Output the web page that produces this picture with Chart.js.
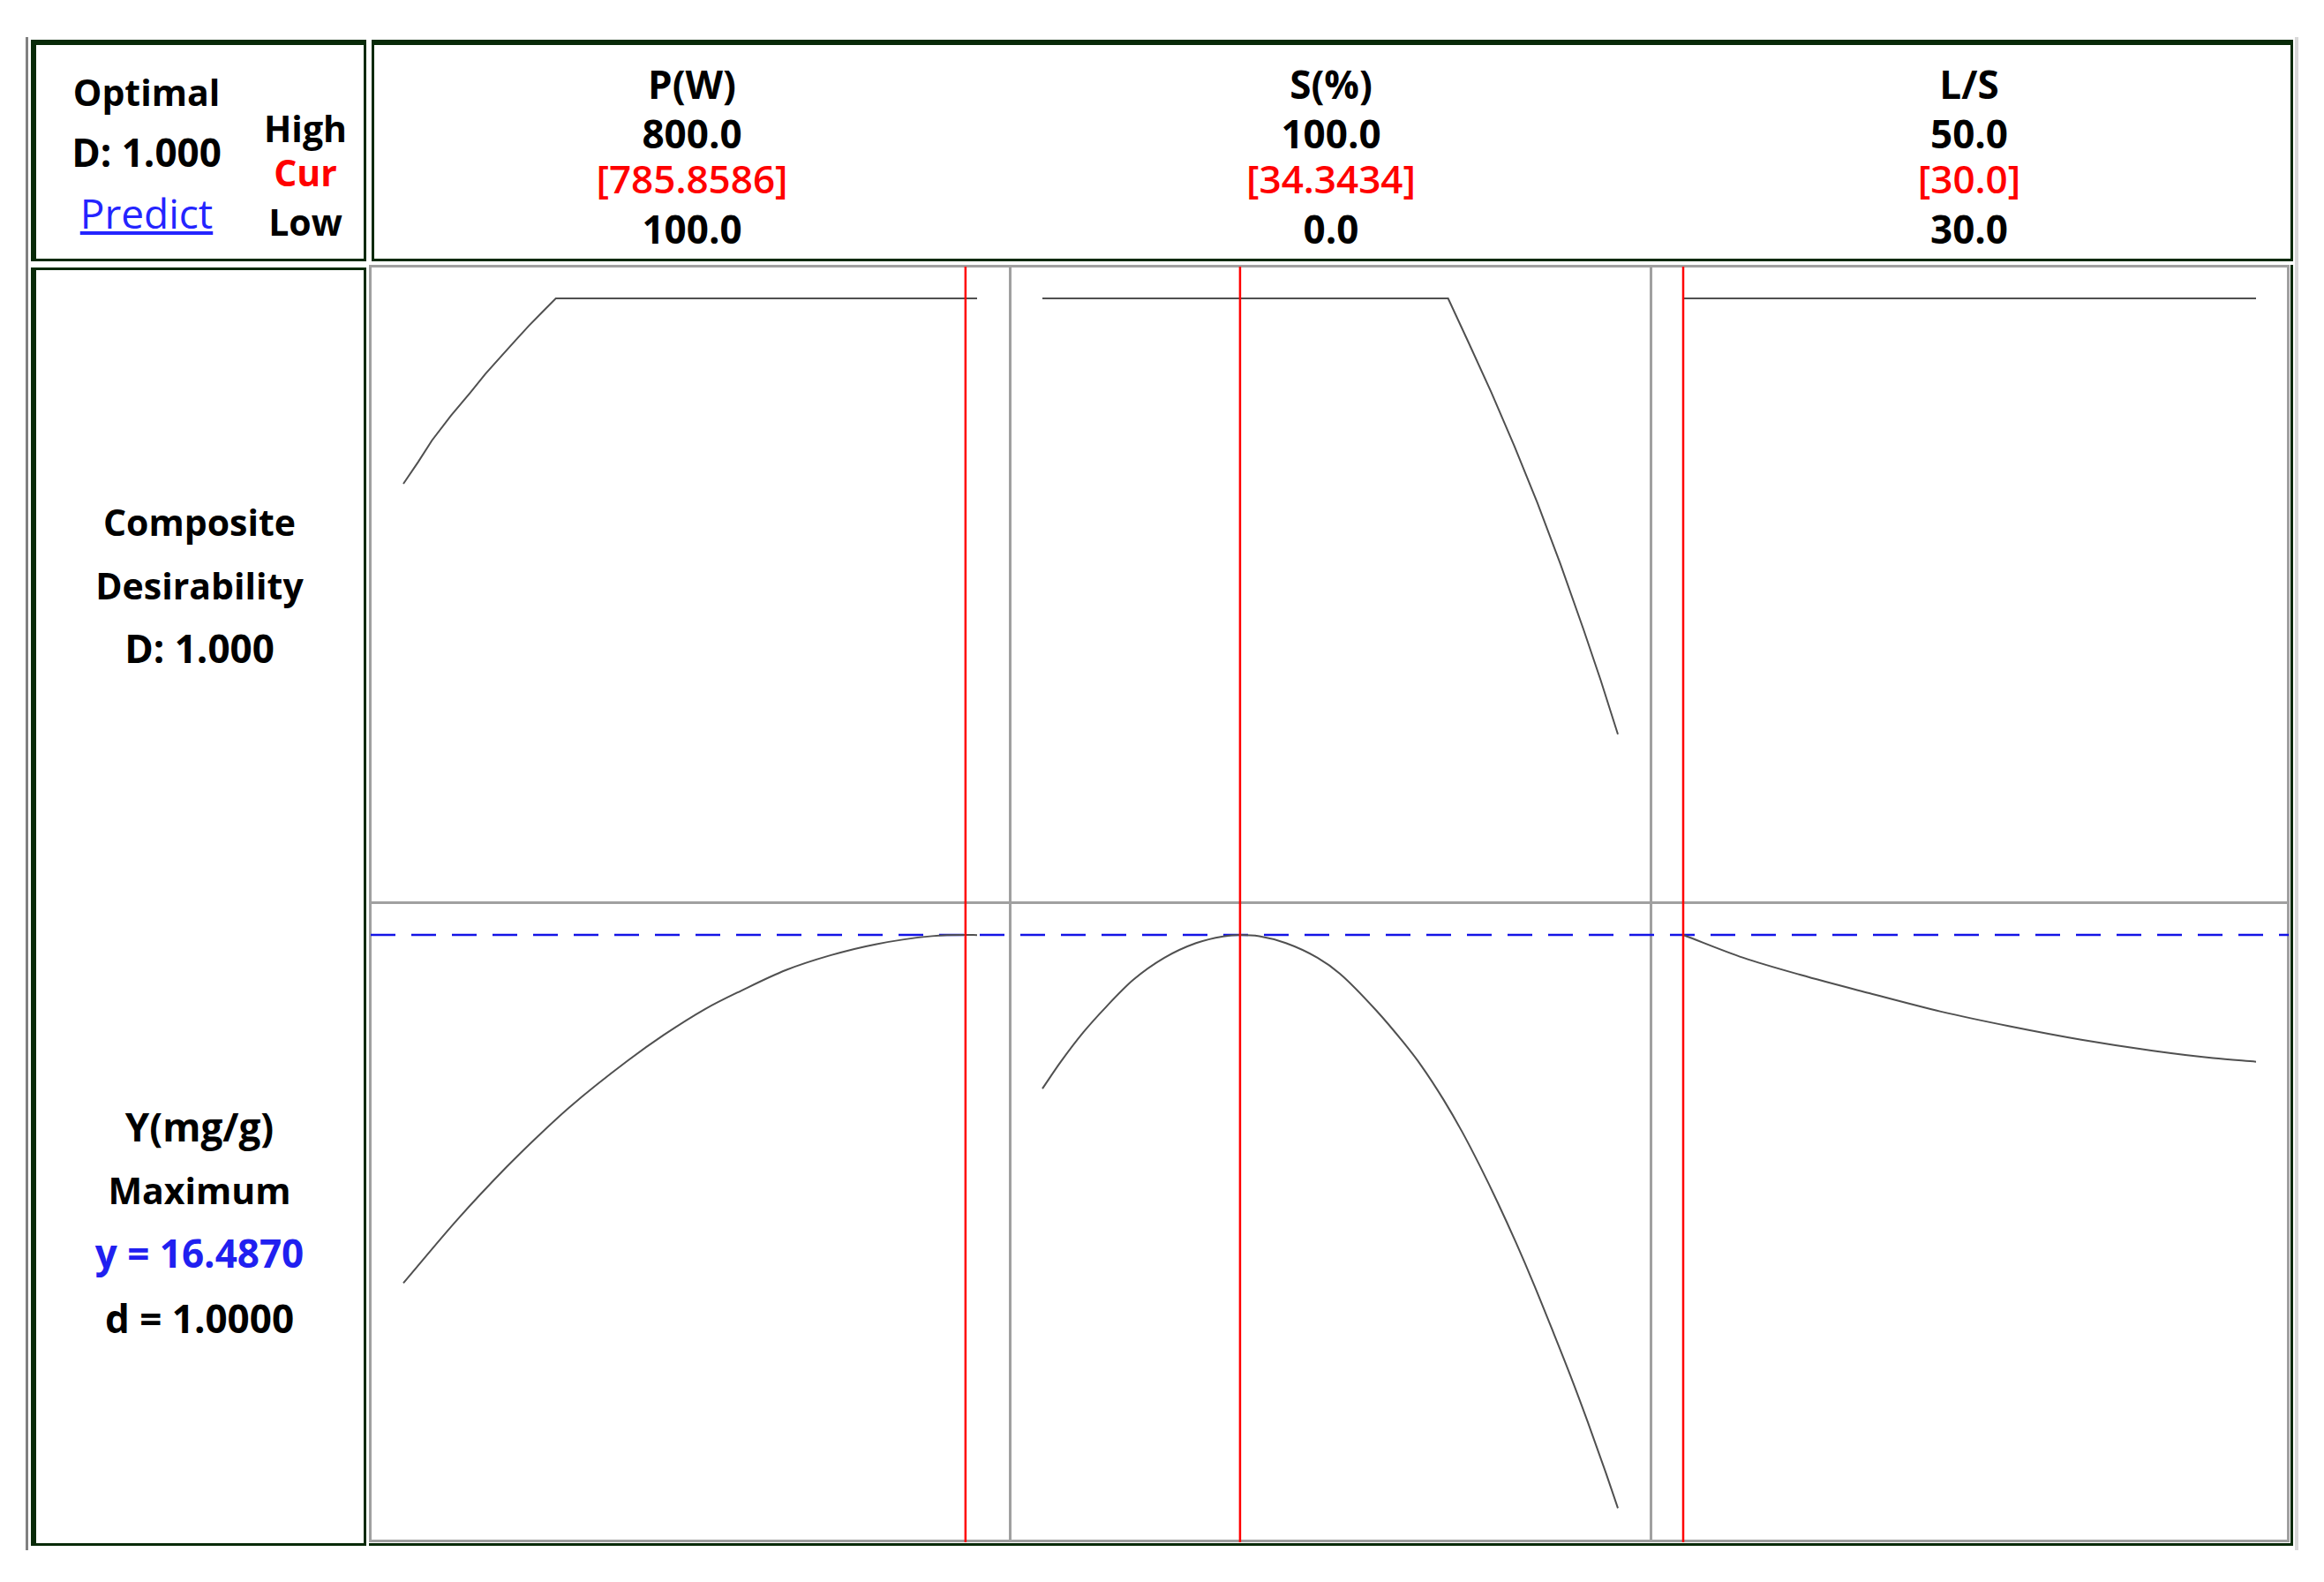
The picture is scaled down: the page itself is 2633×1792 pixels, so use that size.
<!DOCTYPE html>
<html>
<head>
<meta charset="utf-8">
<script src="https://cdn.jsdelivr.net/npm/chart.js@4/dist/chart.umd.min.js"></script>
<style>
html,body{margin:0;padding:0;background:#fff;}
#root{position:relative;width:2633px;height:1792px;overflow:hidden;font-family:"Open Sans",sans-serif;background:#fff;}
.box{position:absolute;box-sizing:border-box;border:0 solid #082a08;}
.line{position:absolute;background:#a0a0a0;}
.t{position:absolute;transform:translate(-50%,-50%);white-space:nowrap;font-size:41px;line-height:1;font-weight:700;color:#000;}
.big{font-size:44px;}
.red{color:#ff0000;}
.redv{color:#ff0000;font-weight:600;font-size:44px;}
.blue{color:#2020f0;font-size:44px;}
.pred{color:#2424ff;font-weight:400;text-decoration:underline;font-size:46px;}
canvas{position:absolute;}
</style>
</head>
<body>
<div id="root"></div>
<script>
// ---------- data ----------
const factors    = ['P(W)', 'S(%)', 'L/S'];
const highLabels = ['800.0', '100.0', '50.0'];
const curLabels  = ['[785.8586]', '[34.3434]', '[30.0]'];
const lowLabels  = ['100.0', '0.0', '30.0'];
const lows  = [100, 0, 30];
const highs = [800, 100, 50];
const curs  = [785.8586, 34.3434, 30.0];

// composite desirability curves (top row)
const pD_x = [100, 118, 135, 158, 182, 200, 220, 237, 253, 270, 286, 800];
const pD_d = [0.676, 0.714, 0.752, 0.795, 0.836, 0.868, 0.900, 0.927, 0.952, 0.977, 1.0, 1.0];
const sD_x = [0, 70.5, 74, 78, 82, 86, 90, 94, 97, 100];
const sD_d = [1.0, 1.0, 0.924, 0.836, 0.742, 0.643, 0.536, 0.422, 0.333, 0.238];
const lD_x = [30, 50];
const lD_d = [1.0, 1.0];

// response Y(mg/g) curves (bottom row)
const pY_x = [100, 166, 226, 264, 303, 374, 418, 468, 512, 567, 621, 676, 745, 785.86, 800];
const pY_y = [13.64, 14.16, 14.59, 14.84, 15.08, 15.46, 15.67, 15.88, 16.03, 16.20, 16.32, 16.41, 16.477, 16.487, 16.486];
const sY_x = [0, 3.2, 7.1, 11.1, 15.8, 21.2, 26.7, 31.4, 34.34, 37.7, 42.3, 47.8, 51.7, 58.0, 62.7, 65.8, 69.7, 72.9, 76.0, 79.1, 82.3, 85.4, 88.5, 91.7, 94.8, 97.9, 100];
const sY_y = [15.23, 15.45, 15.69, 15.90, 16.12, 16.30, 16.42, 16.475, 16.487, 16.476, 16.42, 16.30, 16.17, 15.87, 15.61, 15.42, 15.14, 14.88, 14.60, 14.30, 13.97, 13.63, 13.27, 12.89, 12.50, 12.09, 11.80];
const lY_x = [30, 32.1, 34.1, 36.5, 39.0, 41.4, 43.9, 46.4, 48.5, 50];
const lY_y = [16.487, 16.30, 16.16, 16.01, 15.86, 15.74, 15.63, 15.54, 15.48, 15.45];

const yOpt = 16.487;
const dRange = [-0.0556, 1.0556];
const yRange = [11.521, 16.754];

// ---------- layout ----------
const root = document.getElementById('root');
function box(l, t, w, h, bt, br, bb, bl, color) {
  const d = document.createElement('div');
  d.className = 'box';
  d.style.cssText = `left:${l}px;top:${t}px;width:${w}px;height:${h}px;border-width:${bt}px ${br}px ${bb}px ${bl}px;` + (color ? `border-color:${color};` : '');
  root.appendChild(d);
}
function line(l, t, w, h, c) {
  const d = document.createElement('div');
  d.className = 'line';
  d.style.cssText = `left:${l}px;top:${t}px;width:${w}px;height:${h}px;` + (c ? `background:${c};` : '');
  root.appendChild(d);
}
function text(s, x, y, cls) {
  const d = document.createElement('div');
  d.className = 't' + (cls ? ' ' + cls : '');
  d.textContent = s;
  d.style.left = x + 'px';
  d.style.top = y + 'px';
  root.appendChild(d);
}

// outer thin gray lines
line(29, 42, 3, 1714, '#808080');
line(2600, 42, 4, 1714, '#d8d8d8');
// header boxes
box(35, 45, 380, 251, 6, 3, 3, 6);
box(421, 45, 2177, 251, 6, 3, 3, 3);
// body left box
box(35, 303, 380, 1448, 3, 3, 3, 6);
// body right dark outline (right/bottom)
box(418, 300, 2180, 1451, 0, 3, 3, 0);
// plot frame gray
box(418, 300, 2176, 1447, 3, 3, 3, 3, '#a0a0a0');

const xs = [420, 1144, 1870, 2593];
const ys = [302, 1022, 1747];
// dividers
line(1143, 302, 3, 1445);
line(1869, 302, 3, 1445);
line(420, 1021, 2174, 3);

// header texts
text('Optimal', 166, 104);
text('D: 1.000', 166, 172, 'big');
text('Predict', 166, 241, 'pred');
text('High', 346, 145);
text('Cur', 346, 195, 'red');
text('Low', 346, 251);
const colCenters = [784, 1508, 2231];
for (let i = 0; i < 3; i++) {
  text(factors[i], colCenters[i], 95, 'big');
  text(highLabels[i], colCenters[i], 151, 'big');
  text(curLabels[i], colCenters[i], 202, 'redv');
  text(lowLabels[i], colCenters[i], 259, 'big');
}
// left body texts
text('Composite', 226, 591);
text('Desirability', 226, 663);
text('D: 1.000', 226, 734, 'big');
text('Y(mg/g)', 226, 1276, 'big');
text('Maximum', 226, 1348);
text('y = 16.4870', 226, 1419, 'blue');
text('d = 1.0000', 226, 1493, 'big');

// ---------- charts ----------
const topSets = [[pD_x, pD_d], [sD_x, sD_d], [lD_x, lD_d]];
const botSets = [[pY_x, pY_y], [sY_x, sY_y], [lY_x, lY_y]];
const PAD = 37;

function pts(xa, ya) { return xa.map((v, i) => ({x: v, y: ya[i]})); }

function makeChart(col, row) {
  const W = xs[col + 1] - xs[col];
  const H = ys[row + 1] - ys[row];
  const c = document.createElement('canvas');
  c.width = W; c.height = H;
  c.style.left = xs[col] + 'px';
  c.style.top = ys[row] + 'px';
  c.style.width = W + 'px';
  c.style.height = H + 'px';
  root.appendChild(c);
  const lo = lows[col], hi = highs[col];
  const span = (hi - lo) * PAD / (W - 2 * PAD);
  const xmin = lo - span, xmax = hi + span;
  const yr = row === 0 ? dRange : yRange;
  const src = row === 0 ? topSets[col] : botSets[col];
  const curve = {
    data: pts(src[0], src[1]), showLine: true, borderColor: '#505050', borderWidth: 2,
    pointRadius: 0, order: 2
  };
  if (row === 1) curve.cubicInterpolationMode = 'monotone';
  else curve.tension = 0;
  const datasets = [
    curve,
    {
      data: [{x: curs[col], y: yr[0]}, {x: curs[col], y: yr[1]}], showLine: true,
      borderColor: '#ff0000', borderWidth: 2.5, pointRadius: 0, order: 1
    }
  ];
  if (row === 1) {
    datasets.push({
      data: [{x: xmin, y: yOpt}, {x: xmax, y: yOpt}], showLine: true,
      borderColor: '#1414e6', borderWidth: 2.5, borderDash: [28, 18],
      borderDashOffset: (xs[col] - xs[0]) % 46, pointRadius: 0, order: 3
    });
  }
  new Chart(c, {
    type: 'scatter',
    data: {datasets},
    options: {
      responsive: false, animation: false, devicePixelRatio: 1, events: [],
      layout: {padding: 0},
      plugins: {legend: {display: false}, tooltip: {enabled: false}},
      scales: {
        x: {type: 'linear', display: false, min: xmin, max: xmax},
        y: {type: 'linear', display: false, min: yr[0], max: yr[1]}
      }
    }
  });
}
for (let r = 0; r < 2; r++) for (let c = 0; c < 3; c++) makeChart(c, r);
</script>
</body>
</html>
